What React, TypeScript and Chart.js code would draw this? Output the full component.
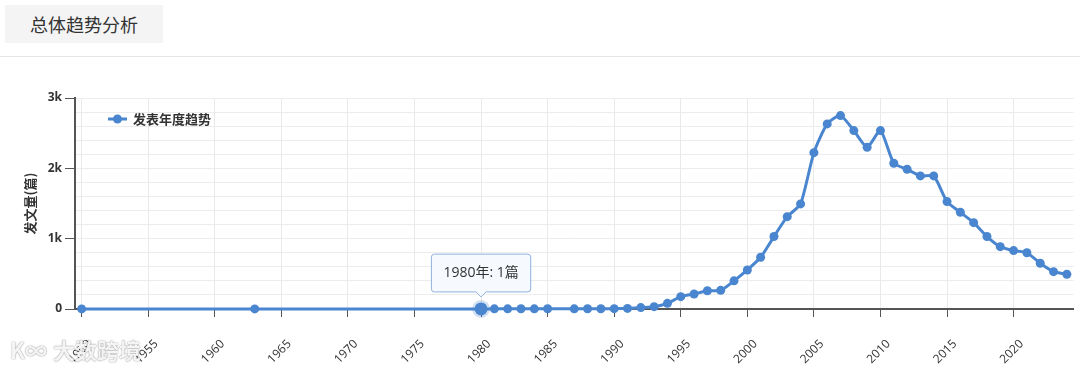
import React, { useEffect, useRef } from 'react';
import { Chart, registerables } from 'chart.js';

Chart.register(...registerables);

const years = [
  1950, 1963, 1980, 1981, 1982, 1983, 1984, 1985, 1987, 1988, 1989, 1990,
  1991, 1992, 1993, 1994, 1995, 1996, 1997, 1998, 1999, 2000, 2001, 2002,
  2003, 2004, 2005, 2006, 2007, 2008, 2009, 2010, 2011, 2012, 2013, 2014,
  2015, 2016, 2017, 2018, 2019, 2020, 2021, 2022, 2023, 2024,
];
const counts = [
  1, 1, 1, 2, 2, 3, 2, 4, 2, 3, 3, 5,
  8, 20, 33, 80, 175, 213, 260, 265, 400, 555, 735, 1030,
  1313, 1494, 2223, 2632, 2750, 2537, 2300, 2537, 2072, 1987, 1892, 1892,
  1527, 1375, 1228, 1030, 886, 830, 800, 650, 531, 494,
];
const xTickYears = [1950, 1955, 1960, 1965, 1970, 1975, 1980, 1985, 1990, 1995, 2000, 2005, 2010, 2015, 2020];
const seriesLabel = '发表年度趋势';
const yTitle = '发文量(篇)';
const headerTitle = '总体趋势分析';
const highlightYear = 1980;

const FONT = '"Open Sans", "Noto Sans CJK SC", sans-serif';
const CJK = '"Noto Sans CJK SC", "Open Sans", sans-serif';
const COLOR = '#4a86cf';

export default function App() {
  const ref = useRef<HTMLCanvasElement>(null);

  useEffect(() => {
    document.body.style.margin = '0';
    const canvas = ref.current!;
    const legendPlugin = {
      id: 'inlineLegend',
      afterDatasetsDraw(chart: any) {
        const ctx = chart.ctx;
        const { left, top } = chart.chartArea;
        const y = top + 21;
        const x0 = left + 33;
        ctx.save();
        ctx.strokeStyle = COLOR;
        ctx.lineWidth = 3;
        ctx.beginPath();
        ctx.moveTo(x0, y);
        ctx.lineTo(x0 + 19, y);
        ctx.stroke();
        ctx.fillStyle = COLOR;
        ctx.beginPath();
        ctx.arc(x0 + 9.5, y, 4.5, 0, Math.PI * 2);
        ctx.fill();
        ctx.fillStyle = '#333';
        ctx.font = `bold 13px ${CJK}`;
        ctx.textBaseline = 'middle';
        ctx.textAlign = 'left';
        ctx.fillText(seriesLabel, x0 + 25, y);
        ctx.restore();
      },
    };

    const data = years.map((x, i) => ({ x, y: counts[i] }));
    const chart = new Chart(canvas, {
      type: 'line',
      data: {
        datasets: [
          {
            label: seriesLabel,
            data,
            borderColor: COLOR,
            backgroundColor: COLOR,
            borderWidth: 3,
            pointRadius: 4.5,
            pointBackgroundColor: COLOR,
            pointBorderWidth: 0,
            pointHoverRadius: 6.5,
            pointHoverBorderWidth: 5,
            pointHoverBackgroundColor: COLOR,
            pointHoverBorderColor: 'rgba(74,134,207,0.25)',
            tension: 0.2,
            fill: false,
            clip: false as any,
          },
        ],
      },
      options: {
        responsive: false,
        animation: false,
        events: [],
        layout: { padding: { top: 38, right: 5, left: 0, bottom: 0 } },
        plugins: {
          legend: { display: false },
          tooltip: {
            enabled: true,
            displayColors: false,
            backgroundColor: 'rgba(246,249,253,0.96)',
            borderColor: '#8fb1db',
            borderWidth: 1,
            bodyColor: '#333',
            bodyFont: { size: 14, family: FONT },
            padding: { x: 12, y: 10.5 },
            cornerRadius: 3,
            caretSize: 5,
            caretPadding: 12,
            xAlign: 'center',
            yAlign: 'bottom',
            callbacks: {
              title: () => '',
              label: (c: any) => `${c.parsed.x}年: ${c.parsed.y}篇`,
            },
          },
        },
        scales: {
          x: {
            type: 'linear',
            min: 1949.5,
            max: 2024.5,
            afterBuildTicks: (s: any) => {
              s.ticks = xTickYears.map((v) => ({ value: v }));
            },
            afterFit: (s: any) => {
              s.height = 60;
            },
            ticks: {
              autoSkip: false,
              maxRotation: 45,
              minRotation: 45,
              color: '#333',
              font: { size: 12, family: FONT },
              padding: 20,
              labelOffset: 8,
              callback: (v: any) => String(v),
            },
            grid: {
              color: '#e9e9e9',
              lineWidth: 1,
              tickLength: 8,
              tickColor: '#555',
            },
            border: { display: true, color: '#555', width: 2 },
          },
          y: {
            type: 'linear',
            min: 0,
            max: 3000,
            afterFit: (s: any) => {
              s.width = 75;
            },
            ticks: {
              stepSize: 200,
              autoSkip: false,
              color: '#333',
              font: { size: 12, family: FONT, weight: 'bold' },
              padding: 3,
              callback: (v: any) => (v % 1000 === 0 ? (v === 0 ? '0' : `${v / 1000}k`) : ''),
            },
            grid: {
              color: '#ececec',
              lineWidth: 1,
              tickLength: 10,
              tickColor: (c: any) => (c.tick && c.tick.value % 1000 === 0 ? '#555' : 'rgba(0,0,0,0)'),
            },
            border: { display: true, color: '#555', width: 2 },
            title: {
              display: true,
              text: yTitle,
              color: '#333',
              font: { size: 13, family: CJK, weight: 'bold' },
              padding: { top: 22, bottom: 0 },
            },
          },
        },
      } as any,
      plugins: [legendPlugin],
    });

    const idx = years.indexOf(highlightYear);
    chart.setActiveElements([{ datasetIndex: 0, index: idx }]);
    chart.tooltip!.setActiveElements([{ datasetIndex: 0, index: idx }], { x: 0, y: 0 });
    chart.update();

    return () => chart.destroy();
  }, []);

  return (
    <div style={{ position: 'relative', width: 1080, height: 369, overflow: 'hidden', background: '#fff' }}>
      <div
        style={{
          position: 'absolute',
          left: 5,
          top: 5,
          width: 158,
          height: 38,
          background: '#f4f4f4',
          color: '#333',
          fontFamily: CJK,
          fontSize: 18,
          lineHeight: '38px',
          paddingLeft: 25,
          boxSizing: 'border-box',
        }}
      >
        {headerTitle}
      </div>
      <div style={{ position: 'absolute', left: 0, top: 56, width: 1080, height: 1, background: '#e5e5e5' }} />
      <canvas
        ref={ref}
        width={1080}
        height={309}
        style={{ position: 'absolute', left: 0, top: 60, width: 1080, height: 309 }}
      />
      <div
        style={{
          position: 'absolute',
          left: 10,
          top: 333,
          fontFamily: CJK,
          fontSize: 22,
          fontWeight: 'bold',
          color: 'rgba(255,255,255,0.92)',
          textShadow: '0 0 1px rgba(0,0,0,0.45), 0 0 2px rgba(0,0,0,0.25)',
          whiteSpace: 'nowrap',
          pointerEvents: 'none',
        }}
      >
        <span style={{ marginRight: 6 }}>K∞</span>大数跨境
      </div>
    </div>
  );
}
